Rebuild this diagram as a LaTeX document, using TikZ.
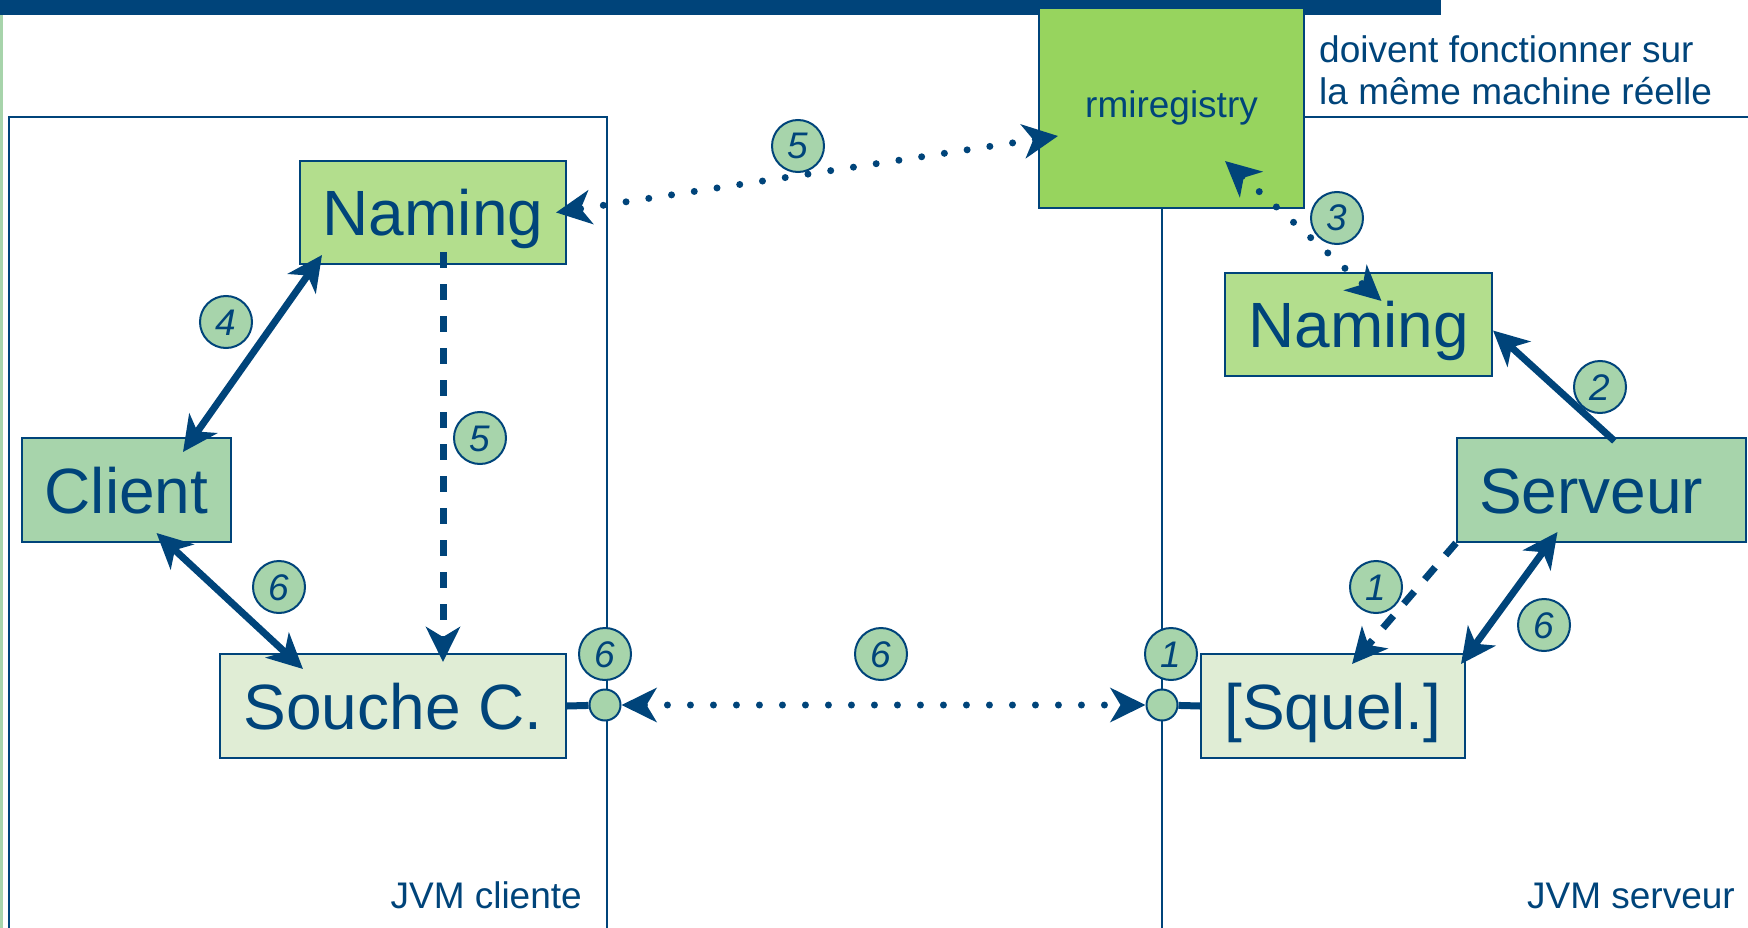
\documentclass[tikz,border=0pt]{standalone}
\usepackage{fontspec}
\setmainfont{Liberation Sans}
\usetikzlibrary{arrows.meta}
\definecolor{rmiblue}{HTML}{00447A}
\definecolor{clientgreen}{HTML}{A7D4AB}
\definecolor{naminggreen}{HTML}{B3DE8D}
\definecolor{registrygreen}{HTML}{97D45E}
\definecolor{stubgreen}{HTML}{E0EDD5}
\begin{document}
\begin{tikzpicture}[x=1pt,y=-1pt,>={Stealth[length=35pt,width=34pt,inset=10pt]}]
    \tikzstyle{box}=[draw=rmiblue,line width=2pt,text=rmiblue,inner sep=0pt,font=\fontsize{64}{72}\selectfont,text height=46pt,text depth=0pt]
    \tikzstyle{num}=[circle,draw=rmiblue,line width=2pt,fill=clientgreen,text=rmiblue,minimum size=52pt,inner sep=0pt,font=\fontsize{37}{40}\selectfont\itshape,text height=26pt,text depth=0pt]
    \tikzstyle{port}=[circle,draw=rmiblue,line width=2pt,fill=clientgreen,minimum size=31pt,inner sep=0pt]
    \tikzstyle{link}=[draw=rmiblue,line width=7pt]
    \tikzstyle{dashlink}=[link,dash pattern=on 16pt off 16pt]
    \tikzstyle{dotlink}=[draw=rmiblue,line width=7pt,line cap=round,dash pattern=on 0pt off 23pt]
    \tikzstyle{note}=[text=rmiblue,inner sep=0pt,font=\fontsize{37}{41}\selectfont]

    \useasboundingbox (0,0) rectangle (1748,928);
    % bandeau et JVM
    \fill[rmiblue] (0,0) rectangle (1441,15);
    \fill[clientgreen] (0,15) rectangle (3,928);
    \draw[rmiblue,line width=2pt] (9,930) -- (9,117) -- (607,117) -- (607,930);
    \draw[rmiblue,line width=2pt] (1162,930) -- (1162,208);
    \draw[rmiblue,line width=2pt] (1304,117) -- (1750,117);

    \node (rmi) at (1171.5,108) [box,fill=registrygreen,minimum width=265pt,minimum height=200pt,font=\fontsize{37}{40}\selectfont,text height=27pt,text depth=7pt] {rmiregistry};
    \node (namingC) at (433,212.5) [box,fill=naminggreen,minimum width=266pt,minimum height=103pt] {Naming};
    \node (namingS) at (1358.5,324.5) [box,fill=naminggreen,minimum width=267pt,minimum height=103pt] {Naming};
    \node (client) at (126.5,490) [box,fill=clientgreen,minimum width=209pt,minimum height=104pt] {Client};
    \node (serveur) at (1601.5,490) [box,fill=clientgreen,text width=245pt,inner xsep=22pt,align=left,minimum height=104pt] {Serveur};
    \node (souche) at (393,706) [box,fill=stubgreen,minimum width=346pt,minimum height=104pt] {Souche C.};
    \node (squel) at (1333,706) [box,fill=stubgreen,minimum width=264pt,minimum height=104pt] {[Squel.]};
    \node (portC) at (605,705) [port] {};
    \node (portS) at (1162,705) [port] {};

    \node (note1) at (1319,63) [note,anchor=base west] {doivent fonctionner sur};
    \node (note2) at (1319,105) [note,anchor=base west] {la même machine réelle};
    \node (jvmC) at (582,908) [note,anchor=base east] {JVM cliente};
    \node (jvmS) at (1735,908) [note,anchor=base east] {JVM serveur};

    % appels
    \draw[link,<->] ([xshift=23pt,yshift=10pt]namingC.south west) -- ([xshift=-49pt,yshift=-15pt]client.north east);
    \draw[dotlink,<->] ([xshift=20pt,yshift=-28pt]rmi.west) -- ([xshift=-11pt]namingC.east);
    \draw[dashlink,->] ([xshift=10pt,yshift=13pt]namingC.south) -- ([xshift=50pt,yshift=-9pt]souche.north);
    \draw[link,<->] ([xshift=30pt,yshift=10pt]client.south) -- ([xshift=84pt,yshift=-16pt]souche.north west);
    \draw[link] (souche.east) -- (portC);
    \draw[dotlink,<->] (portC) -- (portS);
    \draw[link] (portS) -- (squel.west);
    \draw[link,->] ([xshift=13pt,yshift=-4pt]serveur.north) -- ([yshift=-6pt]namingS.east);
    \draw[link,<->] ([xshift=-44pt,yshift=11pt]serveur.south) -- ([xshift=-5pt,yshift=-11pt]squel.north east);
    \draw[dashlink,->] (serveur.south west) -- ([xshift=19pt,yshift=-11pt]squel.north);
    \draw[dotlink,<->] ([xshift=-80pt,yshift=48pt]rmi.south east) -- ([xshift=23pt,yshift=-29pt]namingS.north);

    % etapes
    \node (n1a) at (1376,587) [num] {1};
    \node (n1b) at (1171,654) [num] {1};
    \node (n2) at (1600,387) [num] {2};
    \node (n3) at (1337,218) [num] {3};
    \node (n4) at (226,322) [num] {4};
    \node (n5a) at (798,146) [num] {5};
    \node (n5b) at (480,438) [num] {5};
    \node (n6a) at (279,587) [num] {6};
    \node (n6b) at (1544,625) [num] {6};
    \node (n6c) at (605,654) [num] {6};
    \node (n6d) at (881,654) [num] {6};
\end{tikzpicture}
\end{document}
